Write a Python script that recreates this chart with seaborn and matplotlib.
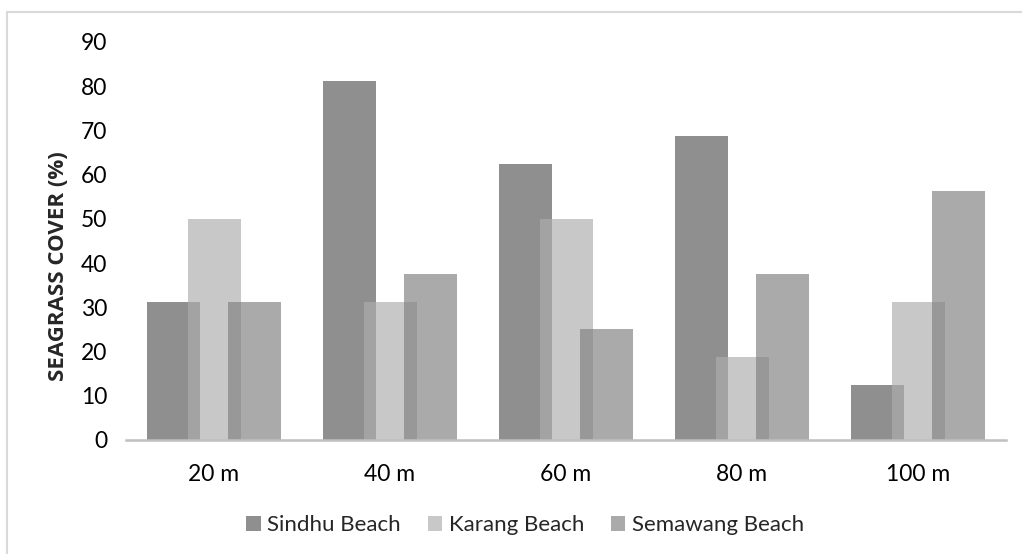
import numpy as np
import pandas as pd
import matplotlib
matplotlib.use("Agg")
import matplotlib.pyplot as plt
import seaborn as sns
from matplotlib.patches import Rectangle, Patch

# Seagrass cover per transect distance and beach
distances = ["20 m", "40 m", "60 m", "80 m", "100 m"]
beaches = ["Sindhu Beach", "Karang Beach", "Semawang Beach"]
sindhu = [31.25, 81.25, 62.5, 68.75, 12.5]
karang = [50, 31.25, 50, 18.75, 31.25]
semawang = [31.25, 37.5, 25, 37.5, 56.25]
yticks = list(range(0, 91, 10))

df = pd.DataFrame({
    "distance": distances * 3,
    "beach": np.repeat(beaches, len(distances)),
    "cover": sindhu + karang + semawang,
})

sns.set_theme(style="white")
plt.rcParams["font.family"] = ["Lato", "DejaVu Sans"]

W, H = 1022, 554
fig = plt.figure(figsize=(W / 100, H / 100), dpi=100)
ax = fig.add_axes([126 / W, 114 / H, 880 / W, 398 / H])

# semi-transparent grey bars; base tones chosen so each looks right on white
ALPHA = 0.68
shown = {"Sindhu Beach": 143, "Karang Beach": 200, "Semawang Beach": 170}
def base_tone(v):
    g = (v - (1 - ALPHA) * 255) / ALPHA / 255
    return (g, g, g)
palette = {b: base_tone(v) for b, v in shown.items()}

sns.barplot(data=df, x="distance", y="cover", hue="beach", order=distances,
            hue_order=beaches, palette=palette, width=0.682, alpha=ALPHA,
            saturation=1, errorbar=None, legend=False, ax=ax,
            edgecolor="none", linewidth=0)

# widen bars around their centres so neighbours overlap
new_w = 53 / 176
for p in ax.patches:
    c = p.get_x() + p.get_width() / 2
    p.set_x(c - new_w / 2)
    p.set_width(new_w)

ax.set_xlim(-0.5, len(distances) - 0.5)
ax.set_ylim(0, 90)
ax.set_yticks(yticks)
ax.set_xlabel("")
ax.set_ylabel("")
for s in ["top", "right", "left"]:
    ax.spines[s].set_visible(False)
ax.spines["bottom"].set_color("#bfbfbf")
ax.spines["bottom"].set_linewidth(1.8)
ax.tick_params(axis="both", length=0, labelsize=16.5, colors="#000000")
ax.tick_params(axis="y", pad=13.5)
ax.tick_params(axis="x", pad=17)

fig.text(59 / W, 1 - 266 / H, "SEAGRASS COVER (%)", rotation=90,
         ha="center", va="center", fontsize=16, fontweight="bold",
         family=["Open Sans", "DejaVu Sans"])

handles = [Patch(facecolor=(v / 255,) * 3, edgecolor="none") for v in shown.values()]
fig.legend(handles, beaches, loc="center", bbox_to_anchor=(525 / W, 1 - 525 / H),
           ncol=3, frameon=False, fontsize=16, handlelength=0.65, handleheight=0.65,
           handletextpad=0.3, columnspacing=1.2)

fig.add_artist(Rectangle((7 / W, -0.1), 1.2, 1.1 - 12 / H, transform=fig.transFigure,
                         fill=False, edgecolor="#d9d9d9", linewidth=1.5))

fig.savefig("out.png", dpi=100, facecolor="white")
